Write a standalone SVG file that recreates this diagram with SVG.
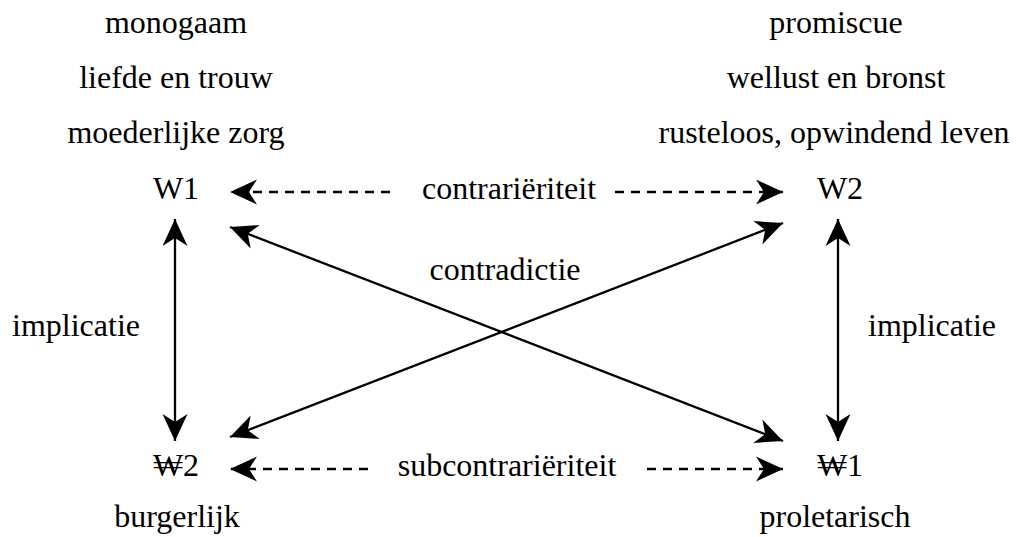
<svg xmlns="http://www.w3.org/2000/svg" width="1026" height="537" viewBox="0 0 1026 537">
  <style>
    text { font-family: "Liberation Serif", "DejaVu Serif", serif; font-size: 32px; fill: #000; }
    .mid { text-anchor: middle; }
    .link { stroke: #000; stroke-width: 2.3; fill: none; }
    .dash { stroke-dasharray: 9 7; }
  </style>
  <defs>
    <marker id="head" viewBox="0 -14 30 28" refX="27" refY="0" markerWidth="30" markerHeight="28" markerUnits="userSpaceOnUse" orient="auto-start-reverse" overflow="visible">
      <path d="M0,-12.5 L27,0 L0,12.5 L8,0 Z" fill="#000" stroke="none"/>
    </marker>
  </defs>
  <rect width="1026" height="537" fill="#ffffff"/>

  <!-- connectors -->
  <g id="connectors">
    <!-- contrariety (dashed, split around its label) -->
    <line class="link dash" x1="390" y1="192" x2="230" y2="192" marker-end="url(#head)"/>
    <line class="link dash" x1="615" y1="192" x2="783" y2="192" marker-end="url(#head)"/>
    <!-- subcontrariety -->
    <line class="link dash" x1="368" y1="469" x2="230" y2="469" marker-end="url(#head)"/>
    <line class="link dash" x1="647" y1="469" x2="783" y2="469" marker-end="url(#head)"/>
    <!-- implication -->
    <line class="link" x1="175" y1="219" x2="175" y2="441" marker-start="url(#head)" marker-end="url(#head)"/>
    <line class="link" x1="838" y1="219" x2="838" y2="441" marker-start="url(#head)" marker-end="url(#head)"/>
    <!-- contradiction -->
    <line class="link" x1="230" y1="227" x2="783" y2="441" marker-start="url(#head)" marker-end="url(#head)"/>
    <line class="link" x1="783" y1="223" x2="230" y2="437" marker-start="url(#head)" marker-end="url(#head)"/>
  </g>

  <!-- relation labels -->
  <g id="labels">
    <text class="mid" x="509" y="199">contrariëriteit</text>
    <text class="mid" x="505" y="280">contradictie</text>
    <text class="mid" x="507" y="476">subcontrariëriteit</text>
    <text class="mid" x="76" y="336">implicatie</text>
    <text class="mid" x="932" y="336">implicatie</text>
  </g>

  <g id="node-w1">
    <text class="mid" x="176" y="33">monogaam</text>
    <text class="mid" x="176" y="88">liefde en trouw</text>
    <text class="mid" x="176" y="143">moederlijke zorg</text>
    <text class="mid" x="176" y="199">W1</text>
  </g>

  <g id="node-w2">
    <text class="mid" x="836" y="33">promiscue</text>
    <text class="mid" x="836" y="88">wellust en bronst</text>
    <text class="mid" x="834" y="143">rusteloos, opwindend leven</text>
    <text class="mid" x="840" y="199">W2</text>
  </g>

  <g id="node-not-w2">
    <text class="mid" x="176" y="476">₩2</text>
    <text class="mid" x="177" y="527">burgerlijk</text>
  </g>

  <g id="node-not-w1">
    <text class="mid" x="840" y="476">₩1</text>
    <text class="mid" x="835" y="527">proletarisch</text>
  </g>
</svg>
